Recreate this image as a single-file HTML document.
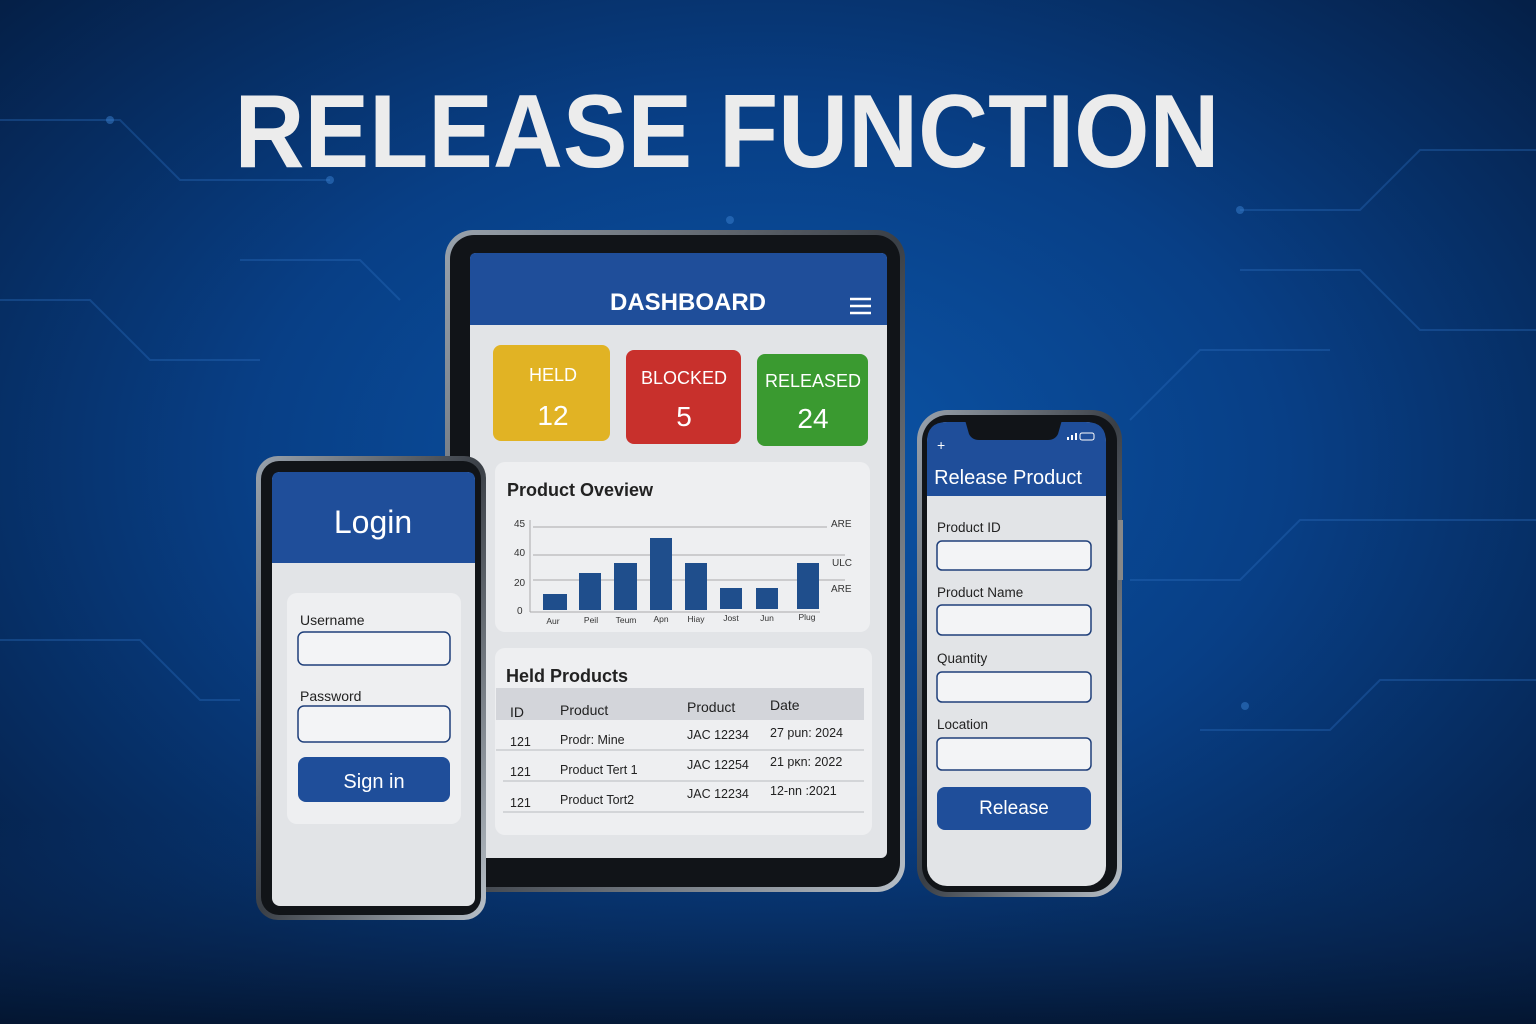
<!DOCTYPE html>
<html><head><meta charset="utf-8"><style>
html,body{margin:0;padding:0;width:1536px;height:1024px;overflow:hidden;background:#06214d}
svg{display:block}
text{font-family:"Liberation Sans","DejaVu Sans",sans-serif}
</style></head><body>
<svg width="1536" height="1024" viewBox="0 0 1536 1024" xmlns="http://www.w3.org/2000/svg">
<defs>
<radialGradient id="bg" cx="0.5" cy="0.45" r="0.75">
<stop offset="0" stop-color="#0b55a8"/>
<stop offset="0.45" stop-color="#083f86"/>
<stop offset="1" stop-color="#041838"/>
</radialGradient>
<linearGradient id="fr" x1="0" y1="0" x2="1" y2="1">
<stop offset="0" stop-color="#9aa3ad"/><stop offset="0.5" stop-color="#3a3f46"/><stop offset="1" stop-color="#b8c0c8"/>
</linearGradient>
<linearGradient id="floor" x1="0" y1="0" x2="0" y2="1">
<stop offset="0" stop-color="#0a3a7a" stop-opacity="0"/><stop offset="1" stop-color="#04152f" stop-opacity="0.8"/>
</linearGradient>
</defs>
<rect width="1536" height="1024" fill="url(#bg)"/>
<g stroke="#2f6fc0" stroke-opacity="0.35" stroke-width="2" fill="none">
<path d="M0 120 H120 L180 180 H330"/><path d="M0 300 H90 L150 360 H260"/><path d="M0 640 H140 L200 700 H240"/>
<path d="M1536 150 H1420 L1360 210 H1240"/><path d="M1536 330 H1420 L1360 270 H1240"/><path d="M1536 520 H1300 L1240 580 H1130"/>
<path d="M1536 680 H1380 L1330 730 H1200"/><path d="M240 260 H360 L400 300"/><path d="M1130 420 L1200 350 H1330"/>
</g>
<g fill="#3a80d0" fill-opacity="0.5"><circle cx="330" cy="180" r="4"/><circle cx="1240" cy="210" r="4"/><circle cx="1245" cy="706" r="4"/><circle cx="110" cy="120" r="4"/><circle cx="730" cy="220" r="4"/></g>
<rect x="0" y="820" width="1536" height="204" fill="url(#floor)"/>
<text x="727" y="167" text-anchor="middle" font-size="104" font-weight="bold" fill="#ececec" textLength="985" lengthAdjust="spacingAndGlyphs">RELEASE FUNCTION</text>

<!-- tablet -->
<rect x="445" y="230" width="460" height="662" rx="28" fill="url(#fr)"/>
<rect x="450" y="235" width="450" height="652" rx="24" fill="#111418"/>
<rect x="470" y="253" width="417" height="605" rx="6" fill="#e2e4e7"/>
<path d="M476 253 H881 Q887 253 887 259 V325 H470 V259 Q470 253 476 253Z" fill="#1f4e9a"/>
<text x="688" y="310" text-anchor="middle" font-size="24" font-weight="bold" fill="#fff">DASHBOARD</text>
<g stroke="#fff" stroke-width="2.5"><path d="M850 299H871M850 306H871M850 313H871"/></g>
<rect x="493" y="345" width="117" height="96" rx="8" fill="#e1b324"/>
<text x="553" y="381" text-anchor="middle" font-size="18" fill="#fff">HELD</text>
<text x="553" y="425" text-anchor="middle" font-size="28" fill="#fff">12</text>
<rect x="626" y="350" width="115" height="94" rx="8" fill="#c8302c"/>
<text x="684" y="384" text-anchor="middle" font-size="18" fill="#fff">BLOCKED</text>
<text x="684" y="426" text-anchor="middle" font-size="28" fill="#fff">5</text>
<rect x="757" y="354" width="111" height="92" rx="8" fill="#3a9a30"/>
<text x="813" y="387" text-anchor="middle" font-size="18" fill="#fff">RELEASED</text>
<text x="813" y="428" text-anchor="middle" font-size="28" fill="#fff">24</text>
<rect x="495" y="462" width="375" height="170" rx="10" fill="#eeeff1"/>
<text x="507" y="496" font-size="18" font-weight="bold" fill="#222">Product Oveview</text>
<g stroke="#aaa" stroke-width="1"><path d="M533 527H827M533 555H845M533 580H845M530 520V612M530 612H820"/></g>
<g font-size="10" fill="#333"><text x="514" y="527">45</text><text x="514" y="556">40</text><text x="514" y="586">20</text><text x="517" y="614">0</text>
<text x="831" y="527">ARE</text><text x="832" y="566">ULC</text><text x="831" y="592">ARE</text></g>
<g fill="#1f4e8c"><rect x="543" y="594" width="24" height="16"/><rect x="579" y="573" width="22" height="37"/><rect x="614" y="563" width="23" height="47"/><rect x="650" y="538" width="22" height="72"/><rect x="685" y="563" width="22" height="47"/><rect x="720" y="588" width="22" height="21"/><rect x="756" y="588" width="22" height="21"/><rect x="797" y="563" width="22" height="46"/></g>
<g font-size="8.5" fill="#333" text-anchor="middle"><text x="553" y="624">Aur</text><text x="591" y="623">Peil</text><text x="626" y="623">Teum</text><text x="661" y="622">Apn</text><text x="696" y="622">Hiay</text><text x="731" y="621">Jost</text><text x="767" y="621">Jun</text><text x="807" y="620">Plug</text></g>
<rect x="495" y="648" width="377" height="187" rx="10" fill="#eeeff1"/>
<text x="506" y="682" font-size="18" font-weight="bold" fill="#222">Held Products</text>
<rect x="496" y="688" width="368" height="32" fill="#d3d5da"/>
<g font-size="14" fill="#222"><text x="510" y="717">ID</text><text x="560" y="715">Product</text><text x="687" y="712">Product</text><text x="770" y="710">Date</text></g>
<g stroke="#b8bbc0"><path d="M496 750H864M503 781H864M503 812H864"/></g>
<g font-size="12.5" fill="#222"><text x="510" y="746">121</text><text x="560" y="744">Prodr: Mine</text><text x="687" y="739">JAC 12234</text><text x="770" y="737">27 pun: 2024</text>
<text x="510" y="776">121</text><text x="560" y="774">Product Tert 1</text><text x="687" y="769">JAC 12254</text><text x="770" y="766">21 pκn: 2022</text>
<text x="510" y="807">121</text><text x="560" y="804">Product Tort2</text><text x="687" y="798">JAC 12234</text><text x="770" y="795">12-nn :2021</text></g>

<!-- left phone -->
<rect x="256" y="456" width="230" height="464" rx="22" fill="url(#fr)"/>
<rect x="261" y="461" width="220" height="454" rx="18" fill="#111418"/>
<rect x="272" y="472" width="203" height="434" rx="8" fill="#e2e4e7"/>
<path d="M280 472 H467 Q475 472 475 480 V563 H272 V480 Q272 472 280 472Z" fill="#1f4e9a"/>
<text x="373" y="533" text-anchor="middle" font-size="32" fill="#fff">Login</text>
<rect x="287" y="593" width="174" height="231" rx="10" fill="#eeeff1"/>
<text x="300" y="625" font-size="14" fill="#222">Username</text>
<rect x="298" y="632" width="152" height="33" rx="6" fill="#f3f4f6" stroke="#1f3f7a" stroke-width="1.5"/>
<text x="300" y="701" font-size="14" fill="#222">Password</text>
<rect x="298" y="706" width="152" height="36" rx="6" fill="#f3f4f6" stroke="#1f3f7a" stroke-width="1.5"/>
<rect x="298" y="757" width="152" height="45" rx="8" fill="#1f4e9a"/>
<text x="374" y="788" text-anchor="middle" font-size="20" fill="#fff">Sign in</text>

<!-- right phone -->
<rect x="917" y="410" width="205" height="487" rx="30" fill="url(#fr)"/>
<rect x="1118" y="520" width="5" height="60" fill="#888"/>
<rect x="922" y="415" width="195" height="477" rx="26" fill="#111418"/>
<rect x="927" y="422" width="179" height="464" rx="20" fill="#e2e4e7"/>
<path d="M947 422 H1086 Q1106 422 1106 442 V496 H927 V442 Q927 422 947 422Z" fill="#1f4e9a"/>
<path d="M965 420 H1062 L1058 434 Q1055 440 1048 440 H979 Q972 440 969 434Z" fill="#111418"/>
<text x="937" y="450" font-size="14" fill="#fff">+</text>
<rect x="1080" y="433" width="14" height="7" rx="2" fill="none" stroke="#fff" stroke-width="1"/>
<g fill="#fff"><rect x="1067" y="437" width="2" height="3"/><rect x="1071" y="435" width="2" height="5"/><rect x="1075" y="433" width="2" height="7"/></g>
<text x="1008" y="484" text-anchor="middle" font-size="20" fill="#fff">Release Product</text>
<g font-size="13.5" fill="#222"><text x="937" y="532">Product ID</text><text x="937" y="597">Product Name</text><text x="937" y="663">Quantity</text><text x="937" y="729">Location</text></g>
<g fill="#f3f4f6" stroke="#1f3f7a" stroke-width="1.5"><rect x="937" y="541" width="154" height="29" rx="5"/><rect x="937" y="605" width="154" height="30" rx="5"/><rect x="937" y="672" width="154" height="30" rx="5"/><rect x="937" y="738" width="154" height="32" rx="5"/></g>
<rect x="937" y="787" width="154" height="43" rx="8" fill="#1f4e9a"/>
<text x="1014" y="814" text-anchor="middle" font-size="19" fill="#fff">Release</text>
</svg>
</body></html>
